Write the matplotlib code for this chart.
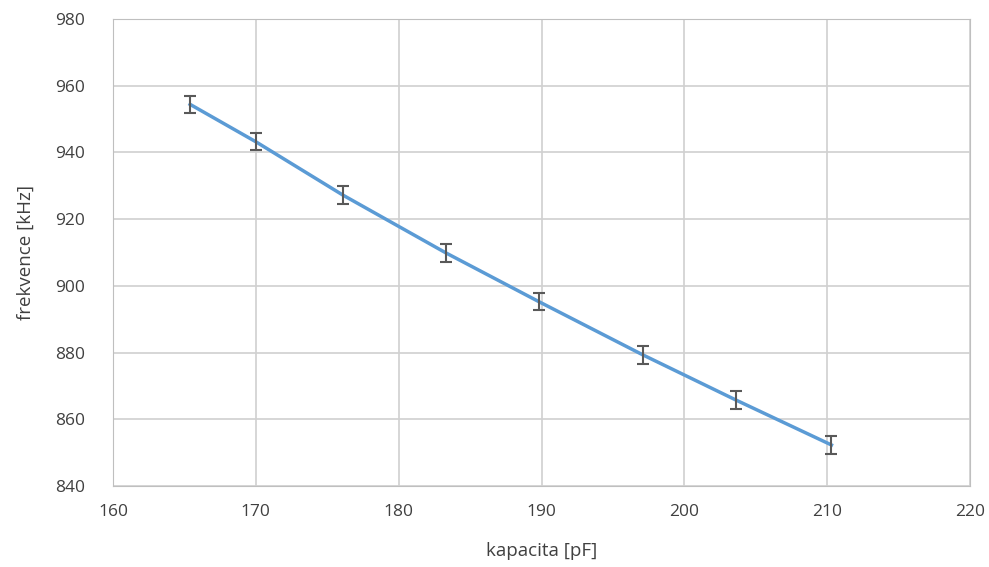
import numpy as np
import matplotlib.pyplot as plt

# kapacita [pF] vs frekvence [kHz]
kapacita = [165.4, 170.0, 176.1, 183.3, 189.8, 197.1, 203.6, 210.3]
frekvence = [954.4, 943.2, 927.2, 909.9, 895.3, 879.3, 865.8, 852.3]
chyba = [2.6, 2.6, 2.6, 2.6, 2.6, 2.6, 2.6, 2.6]

x_ticks = [160, 170, 180, 190, 200, 210, 220]
y_ticks = [840, 860, 880, 900, 920, 940, 960, 980]

plt.rcParams['font.family'] = ['Open Sans', 'DejaVu Sans']

fig = plt.figure(figsize=(9.89, 5.67), dpi=100)
ax = fig.add_axes([113 / 989, 1 - 486 / 567, (970 - 113) / 989, (486 - 19) / 567])

ax.plot(kapacita, frekvence, color='#5B9BD5', lw=2.5, zorder=3)
ax.errorbar(kapacita, frekvence, yerr=chyba, fmt='none', ecolor='#595959',
            elinewidth=1.5, capsize=4, capthick=1.5, zorder=4)

ax.set_xlim(160, 220)
ax.set_ylim(840, 980)
ax.set_xticks(x_ticks)
ax.set_yticks(y_ticks)
ax.grid(True, color='#D0D0D0', lw=1.2)
ax.set_axisbelow(True)
for s in ax.spines.values():
    s.set_color('#BFBFBF')
ax.tick_params(axis='x', length=0, labelsize=12.5, colors='#404040', pad=13)
ax.tick_params(axis='y', length=0, labelsize=12.5, colors='#404040', pad=20)

ax.set_xlabel('kapacita [pF]', fontsize=13.5, color='#404040', labelpad=16)
ax.set_ylabel('frekvence [kHz]', fontsize=13.5, color='#404040', labelpad=15)

fig.savefig('out.png', dpi=100)
